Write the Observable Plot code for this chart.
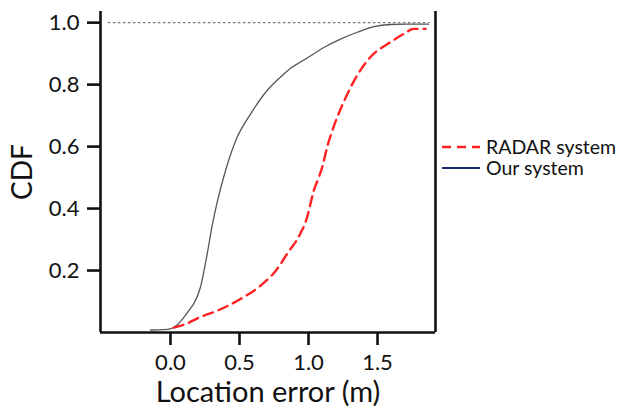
<!DOCTYPE html>
<html>
<head>
<meta charset="utf-8">
<script src="https://cdn.jsdelivr.net/npm/d3@7"></script>
<script src="https://cdn.jsdelivr.net/npm/@observablehq/plot@0.6"></script>
<style>
  html, body { margin: 0; padding: 0; background: #fff; }
  #wrap { position: relative; width: 625px; height: 407px; font-family: Lato, "Open Sans", sans-serif; }
  #legend { position: absolute; left: 441px; top: 136px; font-size: 19.5px; color: #111; }
  #legend .row { display: flex; align-items: center; height: 21.3px; }
  #legend svg { margin-right: 5px; }
</style>
</head>
<body>
<div id="wrap">
  <div id="chart"></div>
  <div id="legend"></div>
</div>
<script>
// ---- data ----
const seriesNames = ["RADAR system", "Our system"];
const ourX = [-0.145, -0.05, 0.0, 0.05, 0.097, 0.145, 0.169, 0.217, 0.266, 0.302, 0.338, 0.399, 0.483, 0.58, 0.70, 0.821, 0.87, 0.942, 0.99, 1.111, 1.232, 1.353, 1.473, 1.594, 1.70, 1.87];
const ourY = [0.008, 0.009, 0.012, 0.025, 0.049, 0.078, 0.093, 0.146, 0.254, 0.345, 0.42, 0.523, 0.63, 0.705, 0.781, 0.834, 0.853, 0.873, 0.886, 0.92, 0.947, 0.969, 0.987, 0.994, 0.995, 0.995];
const radarX = [0.024, 0.097, 0.217, 0.338, 0.507, 0.652, 0.773, 0.845, 0.942, 0.99, 1.014, 1.038, 1.075, 1.099, 1.135, 1.183, 1.256, 1.353, 1.449, 1.594, 1.691, 1.763, 1.848];
const radarY = [0.016, 0.025, 0.05, 0.07, 0.108, 0.151, 0.205, 0.254, 0.32, 0.372, 0.415, 0.458, 0.501, 0.533, 0.598, 0.665, 0.745, 0.83, 0.889, 0.937, 0.964, 0.98, 0.98];
const xTicks = [0.0, 0.5, 1.0, 1.5];
const yTicks = [0.2, 0.4, 0.6, 0.8, 1.0];
const xDomain = [-0.507, 1.92];
const yDomain = [0, 1.036];
const refLine = [{x1: -0.45, x2: 1.88, y: 1.0}];

const our = ourX.map((x, i) => ({x, y: ourY[i]}));
const radar = radarX.map((x, i) => ({x, y: radarY[i]}));

const chart = Plot.plot({
  width: 625,
  height: 407,
  marginLeft: 100,
  marginRight: 190,
  marginTop: 11,
  marginBottom: 75,
  style: {fontFamily: "Lato, 'Open Sans', sans-serif", color: "#111", background: "#fff"},
  x: {domain: xDomain},
  y: {domain: yDomain},
  marks: [
    Plot.ruleY(refLine, {x1: "x1", x2: "x2", y: "y", stroke: "#777", strokeWidth: 1.2, strokeDasharray: "2.5,2.5"}),
    Plot.line(our, {x: "x", y: "y", stroke: "#555", strokeWidth: 1.3, curve: "monotone-x"}),
    Plot.line(radar, {x: "x", y: "y", stroke: "#ff2222", strokeWidth: 2.4, strokeDasharray: "10,6", curve: "monotone-x"}),
    Plot.ruleX([xDomain[0], xDomain[1]], {stroke: "#111", strokeWidth: 2.6}),
    Plot.ruleY([0], {x1: xDomain[0], x2: xDomain[1], stroke: "#111", strokeWidth: 2.6}),
    Plot.axisX({ticks: xTicks, tickFormat: d3.format(".1f"), tickSize: 13, tickPadding: 9, strokeWidth: 2.6, fontSize: 22,
      label: "Location error (m)", labelAnchor: "center", labelArrow: "none", labelOffset: 69}),
    Plot.axisY({ticks: yTicks, tickFormat: d3.format(".1f"), tickSize: 13, tickPadding: 8, strokeWidth: 2.6, fontSize: 22,
      label: "CDF", labelAnchor: "center", labelArrow: "none", labelOffset: 88})
  ]
});
document.getElementById("chart").appendChild(chart);

// style axis labels
chart.querySelectorAll("[aria-label='x-axis label'] text").forEach(t => t.setAttribute("font-size", 29));
chart.querySelectorAll("[aria-label='y-axis label'] text").forEach(t => t.setAttribute("font-size", 28));

// legend
const legendStyles = [
  {stroke: "#ff2222", dash: "9,6", width: 2.4},
  {stroke: "#1a2a6c", dash: null, width: 2}
];
const legend = document.getElementById("legend");
seriesNames.forEach((name, i) => {
  const s = legendStyles[i];
  const row = document.createElement("div");
  row.className = "row";
  row.innerHTML = `<svg width="40" height="10"><line x1="1" x2="39" y1="5" y2="5" stroke="${s.stroke}" stroke-width="${s.width}" ${s.dash ? `stroke-dasharray="${s.dash}"` : ""}/></svg><span>${name}</span>`;
  legend.appendChild(row);
});
</script>
</body>
</html>
